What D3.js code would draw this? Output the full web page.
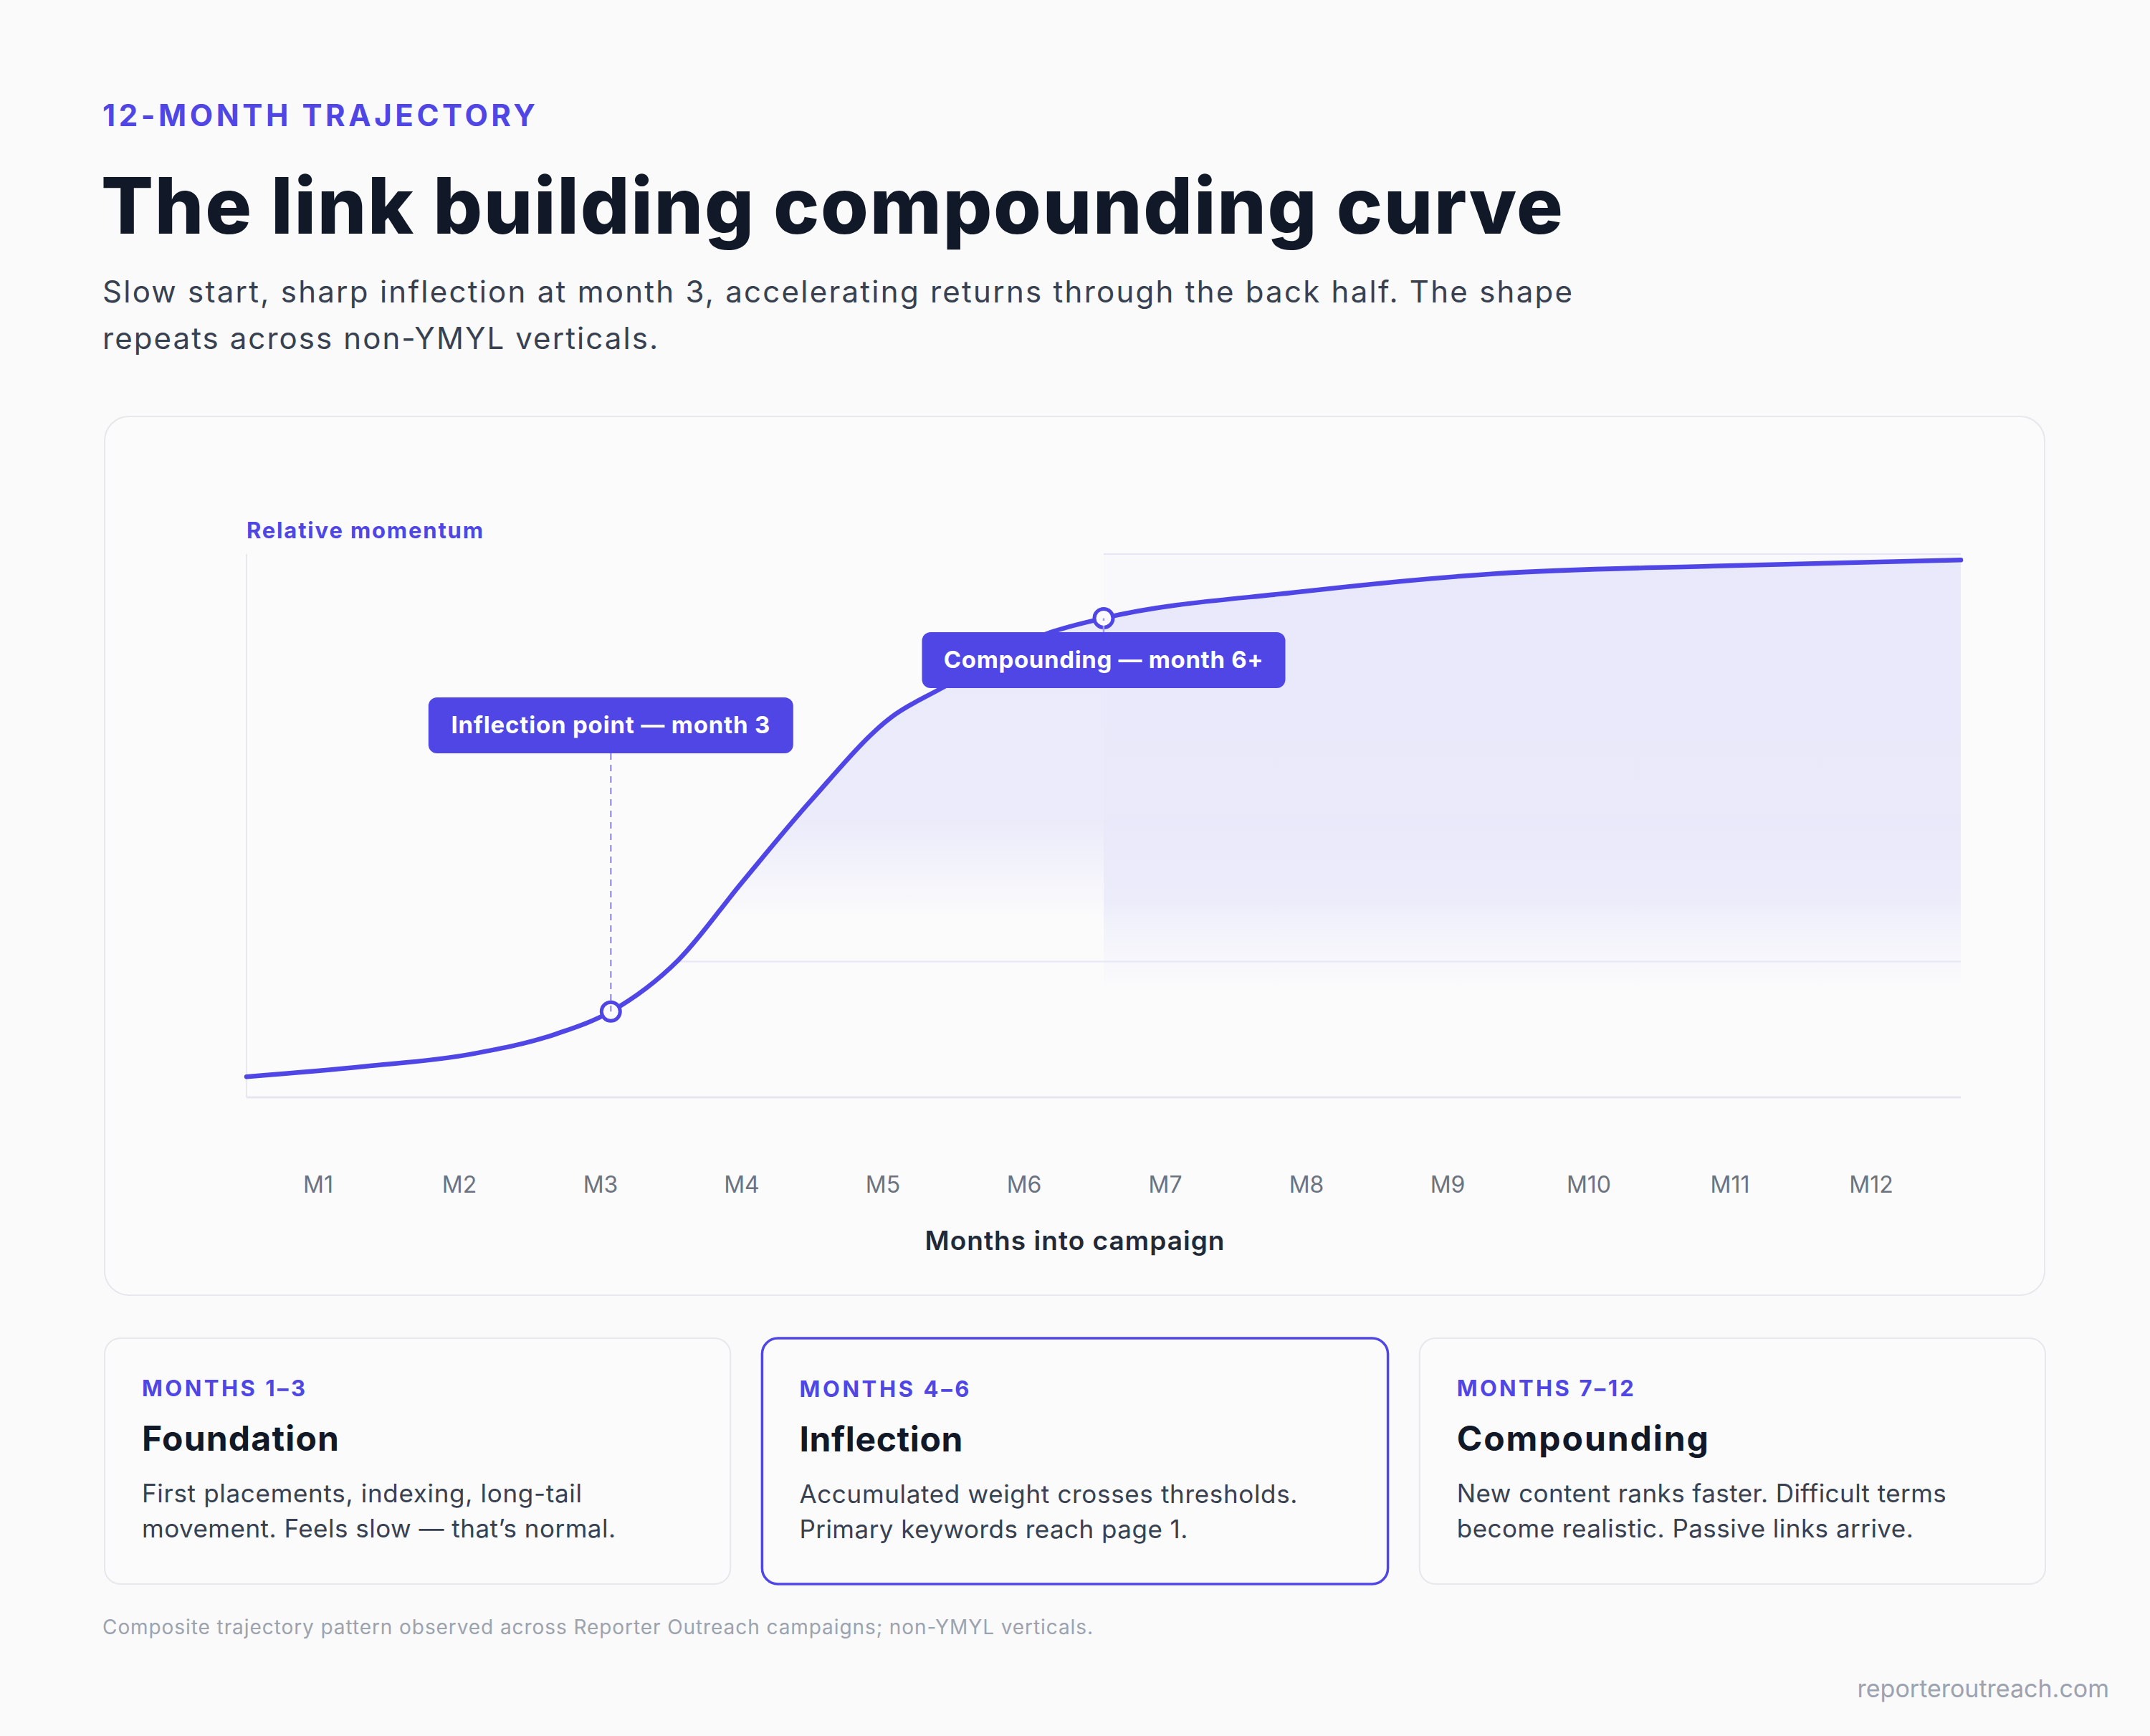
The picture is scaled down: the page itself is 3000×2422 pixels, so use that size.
<!DOCTYPE html>
<html><head><meta charset="utf-8">
<script src="https://cdn.jsdelivr.net/npm/d3@7"></script>
<style>
html,body{margin:0;padding:0;background:#fafafa;}
svg{display:block;font-family:Inter,"Noto Sans",sans-serif;}
</style></head>
<body>
<svg id="chart" width="3000" height="2422"></svg>
<script>
// ---------------- data ----------------
const eyebrow = "12-MONTH TRAJECTORY";
const title = "The link building compounding curve";
const subtitleLines = [
  "Slow start, sharp inflection at month 3, accelerating returns through the back half. The shape",
  "repeats across non-YMYL verticals."
];
const yLabel = "Relative momentum";
const xLabel = "Months into campaign";
const months = ["M1","M2","M3","M4","M5","M6","M7","M8","M9","M10","M11","M12"];
// curve: progress (0-12) vs relative momentum (0-100)
const progress = [0, 0.83, 1.58, 2.17, 2.55, 3.02, 3.46, 3.95, 4.52, 4.85, 5.63, 6.0, 7.36, 8.75, 10.27, 12];
const momentum = [3.8, 5.7, 8.0, 11.7, 15.8, 25.2, 39.3, 54.6, 70.1, 75.1, 85.6, 88.2, 93.0, 96.4, 97.8, 98.9];
const annotationLabels = ["Inflection point \u2014 month 3", "Compounding \u2014 month 6+"];
const annotationAt = [2.55, 6.0];
const compoundingZone = [6.0, 12];
const gridValues = [25, 100];
const phaseRanges = ["MONTHS 1\u20133", "MONTHS 4\u20136", "MONTHS 7\u201312"];
const phaseTitles = ["Foundation", "Inflection", "Compounding"];
const phaseBodies = [
  ["First placements, indexing, long-tail", "movement. Feels slow \u2014 that\u2019s normal."],
  ["Accumulated weight crosses thresholds.", "Primary keywords reach page 1."],
  ["New content ranks faster. Difficult terms", "become realistic. Passive links arrive."]
];
const footnote = "Composite trajectory pattern observed across Reporter Outreach campaigns; non-YMYL verticals.";
const sourceText = "reporteroutreach.com";

// ---------------- helpers ----------------
const INDIGO = "#4f46e5";
const svg = d3.select("#chart");
function fit(sel, w){
  sel.attr("letter-spacing", 0);
  const n = sel.text().length;
  const nat = sel.node().getComputedTextLength();
  sel.attr("letter-spacing", ((w - nat) / Math.max(1, n - 1)).toFixed(3));
  return sel;
}
function txt(x, y, s, size, weight, color, anchor){
  return svg.append("text").attr("x", x).attr("y", y).text(s)
    .attr("font-size", size).attr("font-weight", weight).attr("fill", color)
    .attr("text-anchor", anchor || "start");
}

// ---------------- header ----------------
fit(txt(143, 176, eyebrow, 42, 700, INDIGO), 604);
fit(txt(141, 326, title, 108, 800, "#111827"), 2040);
const subW = [2051, 775];
subtitleLines.forEach((l, i) => fit(txt(143, 422 + i * 65, l, 42, 400, "#374151"), subW[i]));

// ---------------- chart card ----------------
svg.append("rect").attr("x", 146).attr("y", 581).attr("width", 2707).attr("height", 1226)
  .attr("rx", 34).attr("fill", "#fbfbfc").attr("stroke", "#e7e7ec").attr("stroke-width", 2);

const x = d3.scaleLinear().domain([0, 12]).range([344, 2736]);
const y = d3.scaleLinear().domain([0, 100]).range([1531, 773]);
const xm = d3.scaleBand().domain(months).range([345.5, 2709.5]).padding(0);
const pts = progress.map((p, i) => ({p, v: momentum[i]}));

const defs = svg.append("defs");
const gA = defs.append("linearGradient").attr("id", "gArea").attr("gradientUnits", "userSpaceOnUse")
  .attr("x1", 0).attr("x2", 0).attr("y1", y(100)).attr("y2", y(0));
[[0, 0.1], [0.49, 0.095], [0.67, 0]].forEach(s => gA.append("stop").attr("offset", s[0]).attr("stop-color", "#4f55e8").attr("stop-opacity", s[1]));
const gZ = defs.append("linearGradient").attr("id", "gZone").attr("gradientUnits", "userSpaceOnUse")
  .attr("x1", 0).attr("x2", 0).attr("y1", y(100)).attr("y2", y(20));
[[0, 0.012], [0.6, 0.012], [0.8, 0.075], [1, 0]].forEach(s => gZ.append("stop").attr("offset", s[0]).attr("stop-color", "#4f55e8").attr("stop-opacity", s[1]));

const area = d3.area().x(d => x(d.p)).y0(y(0)).y1(d => y(d.v)).curve(d3.curveMonotoneX);
const line = d3.line().x(d => x(d.p)).y(d => y(d.v)).curve(d3.curveMonotoneX);

const clip = defs.append("clipPath").attr("id", "gridClip");
clip.append("path").attr("d", area(pts));
clip.append("rect").attr("x", x(compoundingZone[0])).attr("y", y(100) - 2)
  .attr("width", x(compoundingZone[1]) - x(compoundingZone[0])).attr("height", y(20) - y(100) + 2);

// axes lines
svg.append("line").attr("x1", x(0)).attr("x2", x(0)).attr("y1", y(100)).attr("y2", y(0))
  .attr("stroke", "#e8e8ee").attr("stroke-width", 2);

// fills
svg.append("path").attr("d", area(pts)).attr("fill", "url(#gArea)");
svg.append("rect").attr("x", x(compoundingZone[0])).attr("y", y(100))
  .attr("width", x(compoundingZone[1]) - x(compoundingZone[0])).attr("height", y(20) - y(100))
  .attr("fill", "url(#gZone)");

// gridlines (clipped)
svg.append("g").attr("clip-path", "url(#gridClip)").selectAll("line").data(gridValues).join("line")
  .attr("x1", x(0)).attr("x2", x(12)).attr("y1", d => y(d)).attr("y2", d => y(d))
  .attr("stroke", "#e6e6f8").attr("stroke-width", 2);

svg.append("line").attr("x1", x(0)).attr("x2", x(12)).attr("y1", y(0)).attr("y2", y(0))
  .attr("stroke", "#e6e6f0").attr("stroke-width", 3);

// curve
svg.append("path").attr("d", line(pts)).attr("fill", "none").attr("stroke", INDIGO)
  .attr("stroke-width", 6.5).attr("stroke-linecap", "round").attr("stroke-linejoin", "round");

// annotations
const boxTop = [973, 882];
const boxH = 78;
annotationAt.forEach((p, i) => {
  const cx = x(p);
  const v = momentum[progress.indexOf(p)];
  const cy = y(v);
  const g = svg.append("g");
  const t = g.append("text").attr("x", cx).attr("y", boxTop[i] + boxH / 2 + 11).attr("text-anchor", "middle")
    .attr("font-size", 33).attr("font-weight", 700).attr("fill", "#ffffff").text(annotationLabels[i]);
  fit(t, i === 0 ? 445 : 446);
  const w = i === 0 ? 509 : 507;
  g.insert("rect", "text").attr("x", cx - w / 2).attr("y", boxTop[i]).attr("width", w).attr("height", boxH)
    .attr("rx", 12).attr("fill", INDIGO);
  // marker
  svg.append("circle").attr("cx", cx).attr("cy", cy).attr("r", 13)
    .attr("fill", "#fbfbfe").attr("stroke", INDIGO).attr("stroke-width", 5);
  const y1 = i === 0 ? boxTop[i] + boxH : boxTop[i];
  svg.append("line").attr("x1", cx).attr("x2", cx).attr("y1", y1).attr("y2", cy)
    .attr("stroke", "#9f9af2").attr("stroke-width", 2.5).attr("stroke-dasharray", "9 7");
});

// axis labels
fit(txt(344, 751, yLabel, 31, 700, INDIGO), 330);
svg.append("g").selectAll("text").data(months).join("text")
  .attr("x", d => xm(d) + xm.bandwidth() / 2).attr("y", 1664).attr("text-anchor", "middle")
  .attr("font-size", 32).attr("fill", "#6b7280").text(d => d);
fit(txt(1500, 1744, xLabel, 37, 600, "#1f2937", "middle"), 418);

// ---------------- phase cards ----------------
const rangeW = [228, 237, 247];
const titleW = [275, 228, 351];
const bodyW = [[614, 661], [695, 542], [683, 637]];
const cardX = d3.scaleBand().domain(phaseTitles).range([145, 2855]).paddingInner(0.046).paddingOuter(0);
phaseTitles.forEach((name, i) => {
  const cx = cardX(name), w = cardX.bandwidth();
  const hl = i === 1;
  svg.append("rect").attr("x", cx + 1).attr("y", 1867).attr("width", w - 2).attr("height", 343)
    .attr("rx", 22).attr("fill", "#fbfbfc").attr("stroke", hl ? INDIGO : "#e7e7ec").attr("stroke-width", hl ? 3.5 : 2);
  const off = hl ? 1 : 0;
  fit(txt(cx + 53, 1948 + off, phaseRanges[i], 31, 700, INDIGO), rangeW[i]);
  fit(txt(cx + 53, 2024 + off, name, 48, 700, "#111827"), titleW[i]);
  phaseBodies[i].forEach((l, j) => fit(txt(cx + 53, 2096 + off + j * 49, l, 35, 400, "#374151"), bodyW[i][j]));
});

// ---------------- footer ----------------
fit(txt(143, 2280, footnote, 28, 400, "#9ca3af"), 1382);
txt(2943, 2368, sourceText, 34, 400, "#9ca3af", "end");
</script>
</body></html>
